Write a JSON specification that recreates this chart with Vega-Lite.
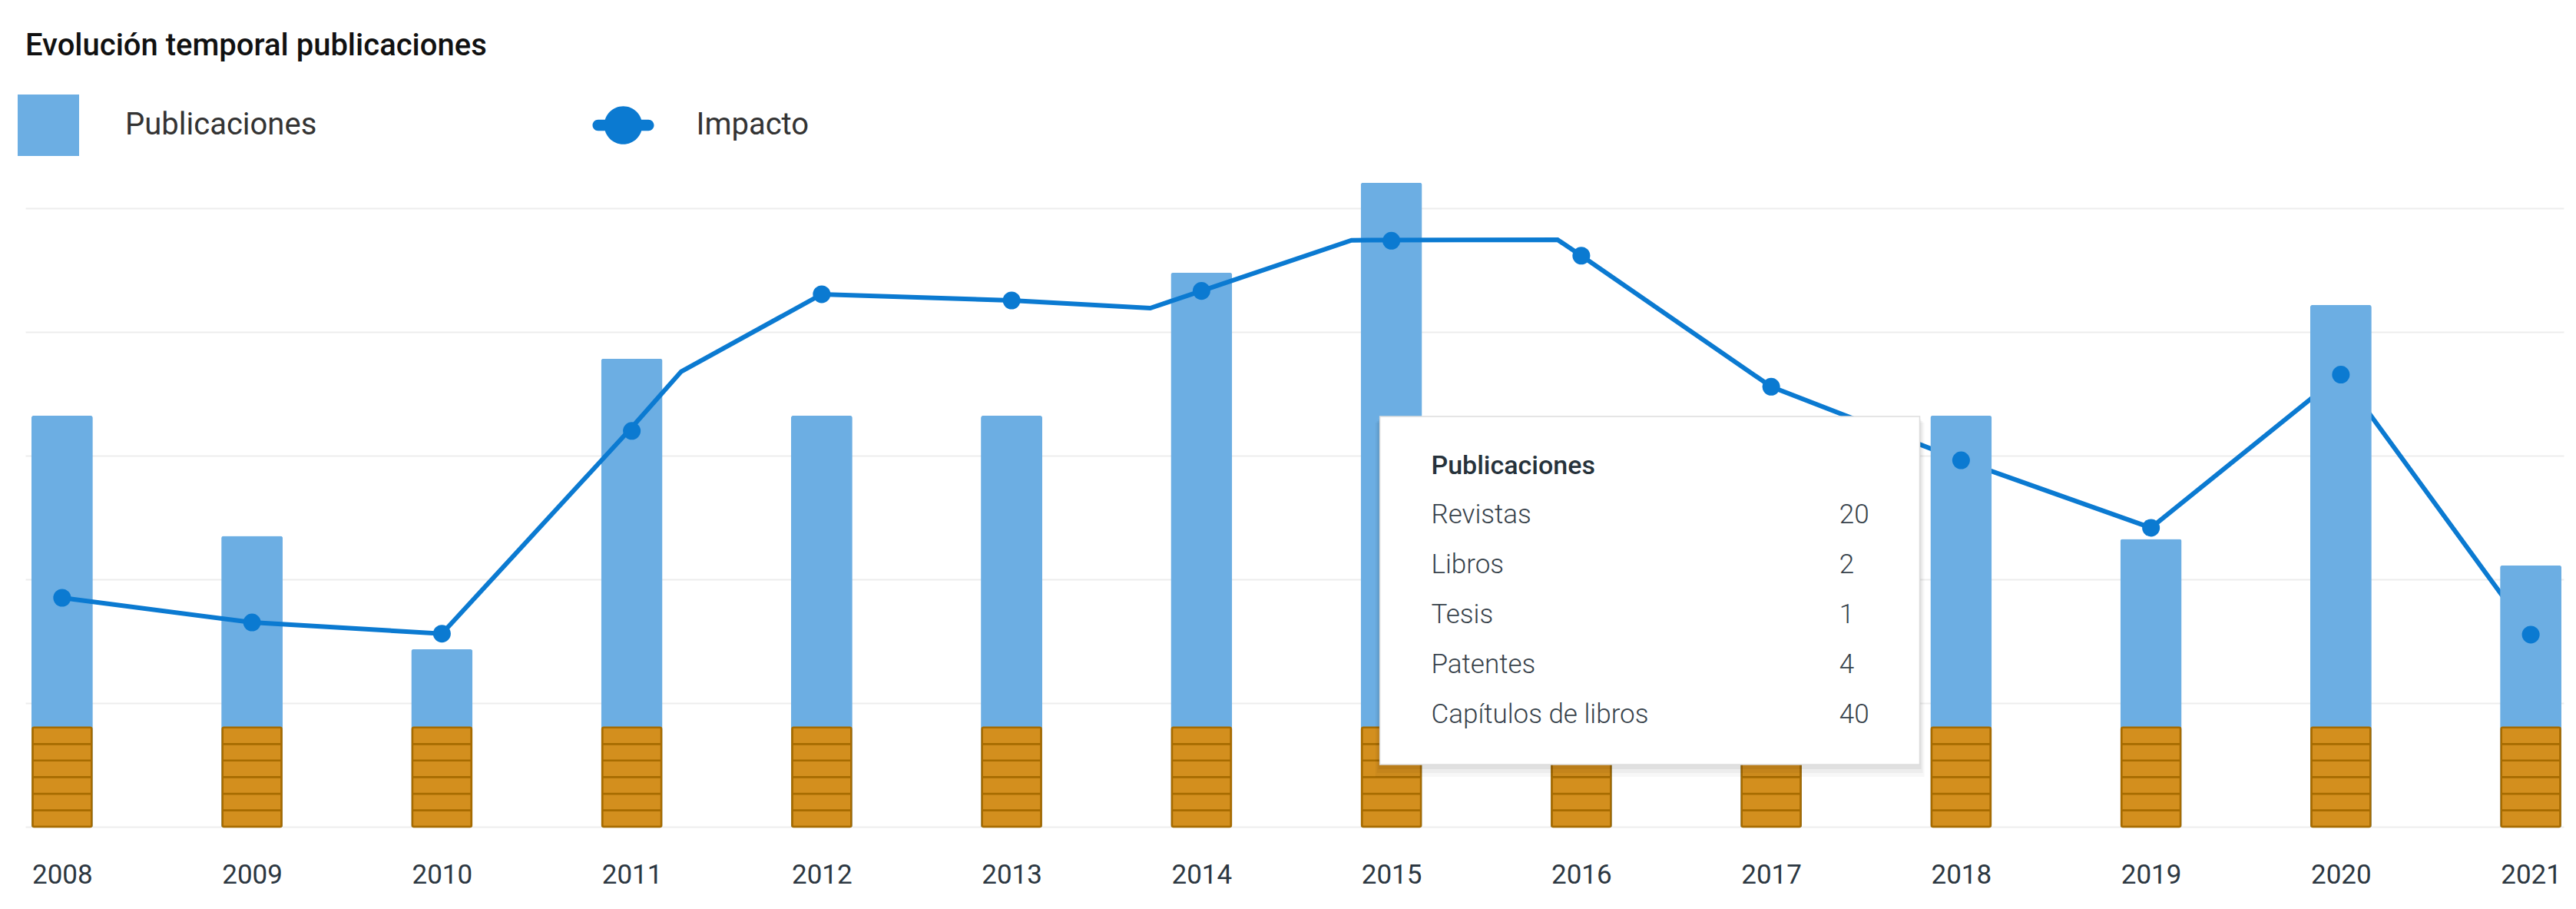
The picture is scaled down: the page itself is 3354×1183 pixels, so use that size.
{
  "$schema": "https://vega.github.io/schema/vega-lite/v6.json",
  "width": 3305,
  "height": 885,
  "autosize": {"type": "none"},
  "padding": {"left": 33, "top": 191, "right": 16, "bottom": 107},
  "background": "white",
  "config": {"view": {"stroke": null}, "font": "Roboto"},
  "title": {
    "text": "Evolución temporal publicaciones",
    "anchor": "start",
    "frame": "group",
    "font": "Roboto",
    "fontSize": 40,
    "fontWeight": 500,
    "color": "#111111",
    "baseline": "alphabetic",
    "offset": 11
  },
  "datasets": {
    "anual": [
      {"anio": 2008, "publicaciones": 33.25, "impacto": 18.52},
      {"anio": 2009, "publicaciones": 23.52, "impacto": 16.53},
      {"anio": 2010, "publicaciones": 14.36, "impacto": 15.62},
      {"anio": 2011, "publicaciones": 37.87, "impacto": 32.02},
      {"anio": 2012, "publicaciones": 33.25, "impacto": 43.07},
      {"anio": 2013, "publicaciones": 33.25, "impacto": 42.57},
      {"anio": 2014, "publicaciones": 44.81, "impacto": 43.34},
      {"anio": 2015, "publicaciones": 52.1, "impacto": 47.4},
      {"anio": 2016, "publicaciones": 27, "impacto": 46.19},
      {"anio": 2017, "publicaciones": 24, "impacto": 35.59},
      {"anio": 2018, "publicaciones": 33.25, "impacto": 29.64},
      {"anio": 2019, "publicaciones": 23.27, "impacto": 24.18},
      {"anio": 2020, "publicaciones": 42.2, "impacto": 36.57},
      {"anio": 2021, "publicaciones": 21.14, "impacto": 15.54}
    ],
    "linea_impacto": [
      {"anio": 2008, "impacto": 18.52},
      {"anio": 2009, "impacto": 16.53},
      {"anio": 2010, "impacto": 15.62},
      {"anio": 2011, "impacto": 32.3},
      {"anio": 2011.26, "impacto": 36.82},
      {"anio": 2012, "impacto": 43.07},
      {"anio": 2013, "impacto": 42.57},
      {"anio": 2013.73, "impacto": 41.95},
      {"anio": 2014, "impacto": 43.34},
      {"anio": 2014.79, "impacto": 47.44},
      {"anio": 2015.875, "impacto": 47.48},
      {"anio": 2016, "impacto": 46.19},
      {"anio": 2017, "impacto": 35.59},
      {"anio": 2018, "impacto": 29.64},
      {"anio": 2019, "impacto": 24.18},
      {"anio": 2020, "impacto": 36.57},
      {"anio": 2021, "impacto": 15.54}
    ],
    "bloques": [
      {"anio": 2008, "bloque": 1, "valor": 1.34}, {"anio": 2008, "bloque": 2, "valor": 1.34}, {"anio": 2008, "bloque": 3, "valor": 1.34}, {"anio": 2008, "bloque": 4, "valor": 1.34}, {"anio": 2008, "bloque": 5, "valor": 1.34}, {"anio": 2008, "bloque": 6, "valor": 1.34},
      {"anio": 2009, "bloque": 1, "valor": 1.34}, {"anio": 2009, "bloque": 2, "valor": 1.34}, {"anio": 2009, "bloque": 3, "valor": 1.34}, {"anio": 2009, "bloque": 4, "valor": 1.34}, {"anio": 2009, "bloque": 5, "valor": 1.34}, {"anio": 2009, "bloque": 6, "valor": 1.34},
      {"anio": 2010, "bloque": 1, "valor": 1.34}, {"anio": 2010, "bloque": 2, "valor": 1.34}, {"anio": 2010, "bloque": 3, "valor": 1.34}, {"anio": 2010, "bloque": 4, "valor": 1.34}, {"anio": 2010, "bloque": 5, "valor": 1.34}, {"anio": 2010, "bloque": 6, "valor": 1.34},
      {"anio": 2011, "bloque": 1, "valor": 1.34}, {"anio": 2011, "bloque": 2, "valor": 1.34}, {"anio": 2011, "bloque": 3, "valor": 1.34}, {"anio": 2011, "bloque": 4, "valor": 1.34}, {"anio": 2011, "bloque": 5, "valor": 1.34}, {"anio": 2011, "bloque": 6, "valor": 1.34},
      {"anio": 2012, "bloque": 1, "valor": 1.34}, {"anio": 2012, "bloque": 2, "valor": 1.34}, {"anio": 2012, "bloque": 3, "valor": 1.34}, {"anio": 2012, "bloque": 4, "valor": 1.34}, {"anio": 2012, "bloque": 5, "valor": 1.34}, {"anio": 2012, "bloque": 6, "valor": 1.34},
      {"anio": 2013, "bloque": 1, "valor": 1.34}, {"anio": 2013, "bloque": 2, "valor": 1.34}, {"anio": 2013, "bloque": 3, "valor": 1.34}, {"anio": 2013, "bloque": 4, "valor": 1.34}, {"anio": 2013, "bloque": 5, "valor": 1.34}, {"anio": 2013, "bloque": 6, "valor": 1.34},
      {"anio": 2014, "bloque": 1, "valor": 1.34}, {"anio": 2014, "bloque": 2, "valor": 1.34}, {"anio": 2014, "bloque": 3, "valor": 1.34}, {"anio": 2014, "bloque": 4, "valor": 1.34}, {"anio": 2014, "bloque": 5, "valor": 1.34}, {"anio": 2014, "bloque": 6, "valor": 1.34},
      {"anio": 2015, "bloque": 1, "valor": 1.34}, {"anio": 2015, "bloque": 2, "valor": 1.34}, {"anio": 2015, "bloque": 3, "valor": 1.34}, {"anio": 2015, "bloque": 4, "valor": 1.34}, {"anio": 2015, "bloque": 5, "valor": 1.34}, {"anio": 2015, "bloque": 6, "valor": 1.34},
      {"anio": 2016, "bloque": 1, "valor": 1.34}, {"anio": 2016, "bloque": 2, "valor": 1.34}, {"anio": 2016, "bloque": 3, "valor": 1.34}, {"anio": 2016, "bloque": 4, "valor": 1.34}, {"anio": 2016, "bloque": 5, "valor": 1.34}, {"anio": 2016, "bloque": 6, "valor": 1.34},
      {"anio": 2017, "bloque": 1, "valor": 1.34}, {"anio": 2017, "bloque": 2, "valor": 1.34}, {"anio": 2017, "bloque": 3, "valor": 1.34}, {"anio": 2017, "bloque": 4, "valor": 1.34}, {"anio": 2017, "bloque": 5, "valor": 1.34}, {"anio": 2017, "bloque": 6, "valor": 1.34},
      {"anio": 2018, "bloque": 1, "valor": 1.34}, {"anio": 2018, "bloque": 2, "valor": 1.34}, {"anio": 2018, "bloque": 3, "valor": 1.34}, {"anio": 2018, "bloque": 4, "valor": 1.34}, {"anio": 2018, "bloque": 5, "valor": 1.34}, {"anio": 2018, "bloque": 6, "valor": 1.34},
      {"anio": 2019, "bloque": 1, "valor": 1.34}, {"anio": 2019, "bloque": 2, "valor": 1.34}, {"anio": 2019, "bloque": 3, "valor": 1.34}, {"anio": 2019, "bloque": 4, "valor": 1.34}, {"anio": 2019, "bloque": 5, "valor": 1.34}, {"anio": 2019, "bloque": 6, "valor": 1.34},
      {"anio": 2020, "bloque": 1, "valor": 1.34}, {"anio": 2020, "bloque": 2, "valor": 1.34}, {"anio": 2020, "bloque": 3, "valor": 1.34}, {"anio": 2020, "bloque": 4, "valor": 1.34}, {"anio": 2020, "bloque": 5, "valor": 1.34}, {"anio": 2020, "bloque": 6, "valor": 1.34},
      {"anio": 2021, "bloque": 1, "valor": 1.34}, {"anio": 2021, "bloque": 2, "valor": 1.34}, {"anio": 2021, "bloque": 3, "valor": 1.34}, {"anio": 2021, "bloque": 4, "valor": 1.34}, {"anio": 2021, "bloque": 5, "valor": 1.34}, {"anio": 2021, "bloque": 6, "valor": 1.34}
    ],
    "detalle": [
      {"orden": 1, "tipo": "Revistas", "cantidad": 20},
      {"orden": 2, "tipo": "Libros", "cantidad": 2},
      {"orden": 3, "tipo": "Tesis", "cantidad": 1},
      {"orden": 4, "tipo": "Patentes", "cantidad": 4},
      {"orden": 5, "tipo": "Capítulos de libros", "cantidad": 40}
    ]
  },
  "layer": [
    {
      "data": {"name": "anual"},
      "layer": [
        {
          "transform": [{"filter": "datum.anio <= 2017"}],
          "mark": {"type": "bar", "size": 80, "cornerRadiusTopLeft": 3, "cornerRadiusTopRight": 3},
          "encoding": {
            "x": {
              "field": "anio", "type": "quantitative",
              "scale": {"domain": [2007.8266, 2021.1532], "nice": false, "zero": false},
              "axis": {
                "values": [2008, 2009, 2010, 2011, 2012, 2013, 2014, 2015, 2016, 2017, 2018, 2019, 2020, 2021],
                "format": "d", "title": null, "grid": false, "domain": false, "ticks": false, "tickSize": 0,
                "labelPadding": 73, "labelBaseline": "alphabetic", "labelFontSize": 35, "labelFont": "Roboto",
                "labelColor": "#2c3741", "labelFlush": false, "labelOverlap": false
              }
            },
            "y": {
              "field": "publicaciones", "type": "quantitative",
              "scale": {"domain": [0, 55], "nice": false, "zero": true},
              "axis": {
                "values": [0, 10, 20, 30, 40, 50], "grid": true, "gridColor": "#ededed", "gridWidth": 2,
                "labels": false, "ticks": false, "domain": false, "title": null
              }
            },
            "color": {
              "datum": "Publicaciones",
              "scale": {"domain": ["Publicaciones"], "range": ["#6caee3"]},
              "legend": {
                "orient": "none", "legendX": -10, "legendY": -68, "title": null, "padding": 0,
                "symbolType": "square", "symbolSize": 6400, "symbolStrokeWidth": 0,
                "labelFont": "Roboto", "labelFontSize": 40, "labelFontWeight": 400, "labelColor": "#333333",
                "labelOffset": 60, "labelLimit": 1000
              }
            }
          }
        },
        {
          "data": {"name": "linea_impacto"},
          "mark": {"type": "line", "strokeWidth": 6},
          "encoding": {
            "x": {"field": "anio", "type": "quantitative"},
            "y": {"field": "impacto", "type": "quantitative", "title": null},
            "stroke": {
              "datum": "Impacto",
              "scale": {"domain": ["Impacto"], "range": ["#0b7ad1"]},
              "legend": {
                "orient": "none", "legendX": 738.5, "legendY": -68, "title": null, "padding": 0,
                "symbolType": "M -0.82 -0.18 L 0.82 -0.18 A 0.18 0.18 0 0 1 0.82 0.18 L -0.82 0.18 A 0.18 0.18 0 0 1 -0.82 -0.18 Z M -0.62 0 A 0.62 0.62 0 1 1 0.62 0 A 0.62 0.62 0 1 1 -0.62 0 Z",
                "symbolSize": 6400, "symbolFillColor": "#0b7ad1", "symbolStrokeWidth": 0,
                "labelFont": "Roboto", "labelFontSize": 40, "labelFontWeight": 400, "labelColor": "#333333",
                "labelOffset": 55, "labelLimit": 1000,
                "encode": {"symbols": {"update": {"fill": {"value": "#0b7ad1"}, "strokeWidth": {"value": 0}, "opacity": {"value": 1}}}}
              }
            }
          }
        },
        {
          "transform": [{"filter": "datum.anio >= 2018"}],
          "mark": {"type": "bar", "size": 80, "cornerRadiusTopLeft": 3, "cornerRadiusTopRight": 3},
          "encoding": {
            "x": {"field": "anio", "type": "quantitative"},
            "y": {"field": "publicaciones", "type": "quantitative", "title": null},
            "color": {"datum": "Publicaciones"}
          }
        },
        {
          "data": {"name": "bloques"},
          "mark": {"type": "bar", "size": 77, "fill": "#d38f1e", "stroke": "#a66b00", "strokeWidth": 2.5, "cornerRadius": 2},
          "encoding": {
            "x": {"field": "anio", "type": "quantitative"},
            "y": {"field": "valor", "type": "quantitative", "stack": "zero", "title": null},
            "detail": {"field": "bloque", "type": "ordinal"},
            "order": {"field": "bloque", "type": "quantitative"}
          }
        },
        {
          "mark": {"type": "point", "filled": true, "size": 530, "color": "#0b7ad1", "opacity": 1, "strokeWidth": 0},
          "encoding": {
            "x": {"field": "anio", "type": "quantitative"},
            "y": {"field": "impacto", "type": "quantitative", "title": null}
          }
        }
      ]
    },
    {
      "layer": [
        {
          "data": {"values": [{"capa": "sombra"}]},
          "mark": {"type": "rect", "fill": "#000000", "opacity": 0.03},
          "encoding": {
            "x": {"datum": 2014.9153}, "x2": {"datum": 2017.8064},
            "y": {"datum": -1.0293, "type": "quantitative", "scale": {"domain": [-6.5694, 7.088], "reverse": true, "nice": false, "zero": false}, "axis": null},
            "y2": {"datum": 6.0849}
          }
        },
        {
          "data": {"values": [{"capa": "sombra"}]},
          "mark": {"type": "rect", "fill": "#000000", "opacity": 0.04},
          "encoding": {
            "x": {"datum": 2014.9234}, "x2": {"datum": 2017.7984},
            "y": {"datum": -1.0601, "type": "quantitative", "axis": null},
            "y2": {"datum": 6.0078}
          }
        },
        {
          "data": {"values": [{"capa": "sombra"}]},
          "mark": {"type": "rect", "fill": "#000000", "opacity": 0.05},
          "encoding": {
            "x": {"datum": 2014.9314}, "x2": {"datum": 2017.7903},
            "y": {"datum": -1.091, "type": "quantitative", "axis": null},
            "y2": {"datum": 5.9306}
          }
        },
        {
          "data": {"values": [{"capa": "caja"}]},
          "mark": {"type": "rect", "fill": "#ffffff", "stroke": "#dddddd", "strokeWidth": 1.5},
          "encoding": {
            "x": {"datum": 2014.9395}, "x2": {"datum": 2017.7822},
            "y": {"datum": -1.1527, "type": "quantitative", "axis": null},
            "y2": {"datum": 5.838}
          }
        },
        {
          "data": {"values": [{"encabezado": "Publicaciones"}]},
          "mark": {"type": "text", "align": "left", "baseline": "alphabetic", "font": "Roboto", "fontSize": 34, "fontWeight": 500, "color": "#26323b"},
          "encoding": {
            "x": {"datum": 2015.2097},
            "y": {"datum": 0, "type": "quantitative", "axis": null},
            "text": {"field": "encabezado"}
          }
        },
        {
          "data": {"name": "detalle"},
          "mark": {"type": "text", "align": "left", "baseline": "alphabetic", "font": "Roboto", "fontSize": 35, "fontWeight": 300, "color": "#37424b"},
          "encoding": {
            "x": {"datum": 2015.2097},
            "y": {"field": "orden", "type": "quantitative", "axis": null},
            "text": {"field": "tipo"}
          }
        },
        {
          "data": {"name": "detalle"},
          "mark": {"type": "text", "align": "left", "baseline": "alphabetic", "font": "Roboto", "fontSize": 35, "fontWeight": 300, "color": "#37424b"},
          "encoding": {
            "x": {"datum": 2017.3589},
            "y": {"field": "orden", "type": "quantitative", "axis": null},
            "text": {"field": "cantidad"}
          }
        }
      ]
    }
  ],
  "resolve": {"scale": {"y": "independent"}}
}
